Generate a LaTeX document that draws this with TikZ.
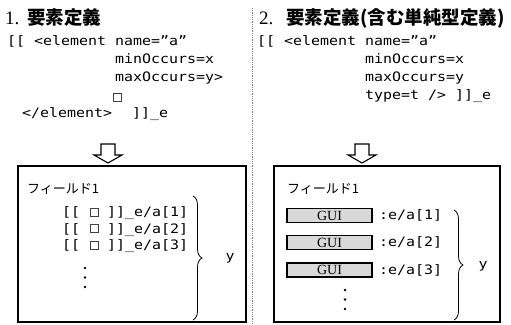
\documentclass[tikz,border=0pt]{standalone}
\usepackage{fontspec}
\usetikzlibrary{decorations.pathreplacing}
\newfontfamily\monofnt[FakeStretch=1.15]{DejaVu Sans Mono}
\newfontfamily\cjkfnt{Noto Sans CJK JP}
\newfontfamily\serfnt{Liberation Serif}
\newcommand\sqbx{\rlap{\hspace{0.8pt}\tikz[baseline=-0.3pt]\draw[line width=0.6pt,black!75](0,0) rectangle (7.5pt,8pt);}\phantom{x}}
\begin{document}
\begin{tikzpicture}[x=1pt,y=-1pt,
  code/.style={anchor=base west,inner sep=0pt,font=\monofnt\fontsize{13}{15}\selectfont},
  titlenum/.style={anchor=base west,inner sep=0pt,font=\serfnt\fontsize{19}{21}\selectfont},
  titlecjk/.style={anchor=base west,inner sep=0pt,font=\cjkfnt\bfseries\fontsize{18.5}{21}\selectfont},
  field/.style={anchor=base west,inner sep=0pt,font=\cjkfnt\fontsize{13}{15}\selectfont},
  panel/.style={draw,line width=1.1pt},
  hollowarrow/.style={draw,line width=1.1pt,fill=white,line join=miter},
  guibox/.style={draw,line width=1.3pt,fill=gray!30,minimum width=85pt,minimum height=14pt,inner sep=0pt,font=\serfnt\fontsize{14}{15}\selectfont},
  smallsq/.style={draw,line width=0.6pt,black!75,minimum width=8pt,minimum height=8pt,inner sep=0pt},
  bracedec/.style={decorate,decoration={brace,amplitude=9pt},line width=0.8pt},
  dotpt/.style={fill,circle,inner sep=0pt,minimum size=2.8pt},
  ylab/.style={inner sep=0pt,font=\monofnt\fontsize{13}{15}\selectfont}
]
\useasboundingbox (0,0) rectangle (511,324);

% separator
\draw[gray,densely dotted,line width=0.8pt] (252,8) -- (252,324);

% ---------- left panel ----------
\node[titlenum] (n1) at (5,24) {1.};
\node[titlecjk] (t1) at (27,24) {要素定義};
\node[code] (c1a) at (7,45.5) {[[ <element name=”a”};
\node[code] (c1c) at (115,63.5) {minOccurs=x};
\node[code] (c1d) at (115,81.5) {maxOccurs=y>};
\node[smallsq] (sq0) at (117,97) {};
\node[code] (c1e) at (22,117.5) {</element>};
\node[code] (c1f) at (132,117.5) {]]\_e};

\draw[hollowarrow] (101,144) -- (115,144) -- (115,155) -- (122,155) -- (108,163) -- (94,155) -- (101,155) -- cycle;

\draw[panel] (18,166) rectangle (246,322);
\node[field] (f1) at (27,193) {フィールド1};
\node[code] (r1) at (62,216.5) {[[ \sqbx{} ]]\_e/a[1]};
\node[code] (r2) at (62,233) {[[ \sqbx{} ]]\_e/a[2]};
\node[code] (r3) at (62,249.5) {[[ \sqbx{} ]]\_e/a[3]};
\node[dotpt] (d1) at (85,268) {};
\node[dotpt] (d2) at (85,277.5) {};
\node[dotpt] (d3) at (85,287) {};
\coordinate (b1t) at (193,196);
\coordinate (b1b) at (193,320);
\draw[bracedec] (b1t) -- (b1b);
\node[ylab] (y1) at (230,258) {y};

% ---------- right panel ----------
\node[titlenum] (n2) at (259,24) {2.};
\node[titlecjk] (t2) at (286,24) {要素定義(含む単純型定義)};
\node[code] (c2a) at (257,45.5) {[[ <element name=”a”};
\node[code] (c2c) at (365,63.5) {minOccurs=x};
\node[code] (c2d) at (365,81.5) {maxOccurs=y};
\node[code] (c2e) at (365,99.5) {type=t /> ]]\_e};

\draw[hollowarrow] (355,144) -- (369,144) -- (369,155) -- (376,155) -- (362,163) -- (348,155) -- (355,155) -- cycle;

\draw[panel] (274,166) rectangle (500,322);
\node[field] (f2) at (287,193) {フィールド1};
\node[guibox] (g1) at (329.5,215.5) {GUI};
\node[guibox] (g2) at (329.5,242.5) {GUI};
\node[guibox] (g3) at (329.5,270) {GUI};
\node[code] (e1) at (379,219.5) {:e/a[1]};
\node[code] (e2) at (379,246.5) {:e/a[2]};
\node[code] (e3) at (379,274.5) {:e/a[3]};
\node[dotpt] (d4) at (345,290) {};
\node[dotpt] (d5) at (345,299.5) {};
\node[dotpt] (d6) at (345,309) {};
\coordinate (b2t) at (454,210);
\coordinate (b2b) at (454,320);
\draw[bracedec] (b2t) -- (b2b);
\node[ylab] (y2) at (483,266) {y};
\end{tikzpicture}
\end{document}
